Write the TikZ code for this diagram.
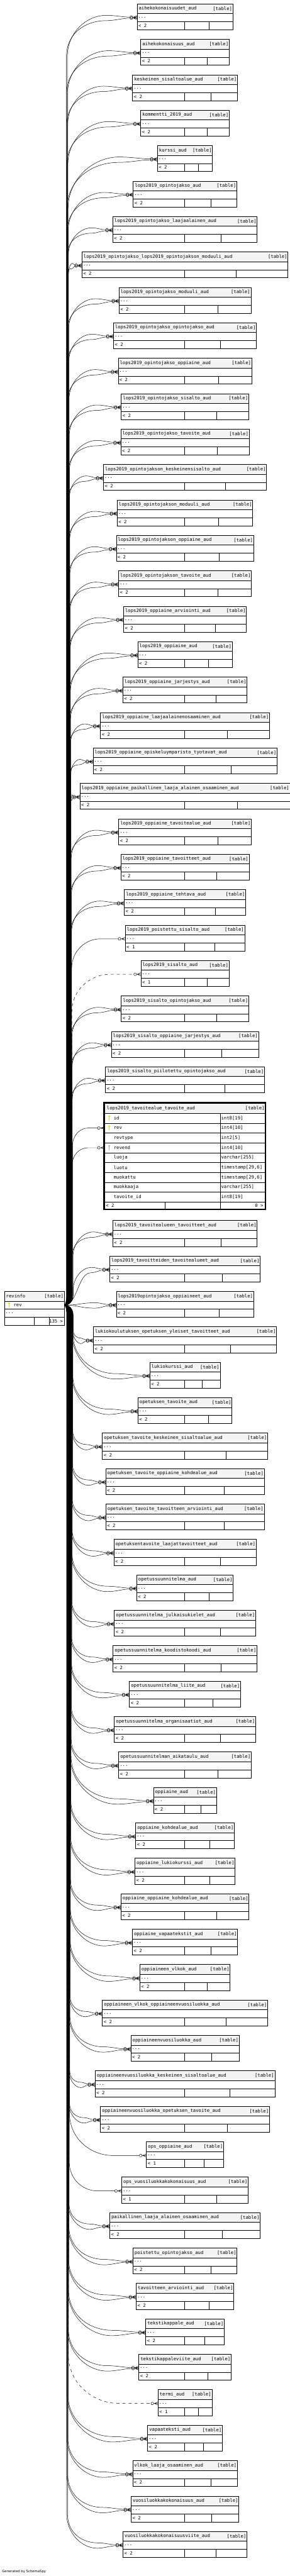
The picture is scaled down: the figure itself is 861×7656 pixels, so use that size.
\documentclass[tikz,border=0pt]{standalone}
\usepackage{fontspec}
\setmonofont{DejaVu Sans Mono}
\setsansfont{DejaVu Sans}
\usetikzlibrary{calc,positioning}

\definecolor{hdrgray}{HTML}{F4F4F4}
\definecolor{pkyellow}{HTML}{DCDC00}
\definecolor{fkgray}{HTML}{A9A9A9}
\newcommand{\tblfont}{\ttfamily\fontsize{13.6}{16}\selectfont}

\tikzset{
  hdr/.style={draw, fill=hdrgray, minimum height=29, anchor=north, inner sep=0pt, outer sep=0pt, line width=1pt},
  cell/.style={draw, minimum height=24, anchor=north, inner sep=0pt, outer sep=0pt, line width=1pt},
  txt/.style={font=\tblfont, inner sep=0pt, outer sep=0pt},
  link/.style={line width=0.9pt},
  implied/.style={dash pattern=on 9pt off 9pt},
}

% one FK line from revinfo to a table row, ending in a crow foot
\newcommand{\revlink}[5][solid]{%
  \path (#2.west); \pgfgetlastxy{\lnx}{\lny}%
  \path (revr.east); \pgfgetlastxy{\lsx}{\lsy}%
  \pgfmathsetmacro{\lxs}{\lsx}%
  \pgfmathsetmacro{\lys}{-1*(\lsy)}%
  \pgfmathsetmacro{\lyt}{-1*(\lny)}%
  \pgfmathsetmacro{\lxc}{\lnx-21}%
  \pgfmathsetmacro{\ld}{abs(\lyt-\lys)}%
  \pgfmathsetmacro{\lsg}{(\lyt<\lys) ? -1 : 1}%
  \pgfmathsetmacro{\lxv}{200+18*(1-\ld/3900)+#5}%
  \pgfmathsetmacro{\lW}{\lxc-\lxv}%
  \pgfmathsetmacro{\lR}{0.55*\lW+12}%
  \pgfmathsetmacro{\lpx}{\lxv+0.62*\lW}%
  \pgfmathsetmacro{\lya}{\lyt+#3}%
  \pgfmathsetmacro{\lye}{\lyt+#4}%
  \pgfmathsetmacro{\lcx}{\lpx+0.15*\lW}%
  \pgfmathsetmacro{\lcy}{\lxc-0.12*\lW}%
  \pgfmathtruncatemacro{\lfar}{\ld>\lR+45}%
  \ifnum\lfar=1
    \pgfmathsetmacro{\lca}{\lxs+0.6*(\lxv-\lxs)}%
    \pgfmathsetmacro{\lcb}{\lys+\lsg*12}%
    \pgfmathsetmacro{\lpa}{\lys+\lsg*30}%
    \pgfmathsetmacro{\lpb}{\lyt-\lsg*\lR}%
    \pgfmathsetmacro{\lcc}{\lyt-\lsg*0.4*\lR}%
    \pgfmathsetmacro{\lcd}{\lxv+0.3*\lW}%
    \draw[link,#1] (revr.east) .. controls (\lca,\lys) and (\lxv,\lcb) .. (\lxv,\lpa)
      -- (\lxv,\lpb) .. controls (\lxv,\lcc) and (\lcd,\lya) .. (\lpx,\lya)
      .. controls (\lcx,\lya) and (\lcy,\lye) .. ([shift={(-21,#4)}]#2.west);
  \else
    \pgfmathsetmacro{\lca}{\lxs+0.5*(\lpx-\lxs)}%
    \draw[link,#1] (revr.east) .. controls (\lca,\lys) and (\lca,\lya) .. (\lpx,\lya)
      .. controls (\lcx,\lya) and (\lcy,\lye) .. ([shift={(-21,#4)}]#2.west);
  \fi
  \draw[link] ([shift={(-17,#4)}]#2.west) circle[radius=4]
    ([shift={(-13,#4)}]#2.west) -- ([shift={(-11,#4)}]#2.west) -- ([shift={(0,#4-4.5)}]#2.west)
    ([shift={(-11,#4)}]#2.west) -- ([shift={(0,#4)}]#2.west)
    ([shift={(-11,#4)}]#2.west) -- ([shift={(0,#4+4.5)}]#2.west);
}

% an elided audit table, linked to revinfo
\newcommand{\audtable}[6][solid]{%
  \pgfmathsetmacro{\ttop}{#3<32 ? 11.4+105.3*#3 : 3627.3+105.3*(#3-32)}%
  \node[hdr, minimum width=#5] (#2) at (549.5,\ttop) {};
  \node[txt, anchor=west] (#2n) at ([xshift=5]#2.west) {#4};
  \node[txt, anchor=east] (#2t) at ([xshift=-2]#2.east) {[table]};
  \node[cell, minimum width=#5] (#2r) at (#2.south) {};
  \node[txt, anchor=west] (#2d) at ([xshift=3]#2r.west) {...};
  \node[cell, minimum width=#5] (#2b) at (#2r.south) {};
  \node[txt, anchor=west] (#2c) at ([xshift=4]#2b.west) {< #6};
  \draw[line width=1pt] (548.6,\ttop+53) -- (548.6,\ttop+77)
    ({549.05+#5/4},\ttop+53) -- ({549.05+#5/4},\ttop+77);
  \ifnum#6=2
    \revlink[#1]{#2r}{-7}{-1.5}{0}%
    \revlink[#1]{#2r}{9}{1.5}{-3}%
  \else
    \revlink[#1]{#2r}{0}{0}{0}%
  \fi
}

\newcommand{\keyicon}[2]{%
  \fill[#2] ([shift={(13.9,-5.5)}]#1.west) circle[radius=2.8];
  \fill[#2] ([shift={(13.1,-4)}]#1.west) rectangle ([shift={(14.7,6.6)}]#1.west);
}

\begin{document}
\begin{tikzpicture}[x=1pt, y=-1pt]
  \useasboundingbox (0,0) rectangle (861,7656);

  % revinfo
  \node[hdr, minimum width=178, anchor=north west] (rev) at (13,3837.9) {};
  \node[txt, anchor=west] (revn) at ([xshift=5]rev.west) {revinfo};
  \node[txt, anchor=east] (revt) at ([xshift=-2]rev.east) {[table]};
  \node[cell, minimum width=178] (revr) at (rev.south) {};
  \node[txt, anchor=west] (revk) at ([xshift=27.4]revr.west) {rev};
  \keyicon{revr}{pkyellow}
  \node[cell, minimum width=178] (reve) at (revr.south) {};
  \node[txt, anchor=west] (revd) at ([xshift=3]reve.west) {...};
  \node[cell, minimum width=178] (revb) at (reve.south) {};
  \node[txt, anchor=east] (revc) at ([xshift=-4]revb.east) {135 >};
  \draw[line width=1pt] (102,3914.9) -- (102,3938.9) (146.5,3914.9) -- (146.5,3938.9);

  \audtable{t00}{0}{aihekokonaisuudet\_aud}{284.5}{2}
  \audtable{t01}{1}{aihekokonaisuus\_aud}{262.8}{2}
  \audtable{t02}{2}{keskeinen\_sisaltoalue\_aud}{311.4}{2}
  \audtable{t03}{3}{kommentti\_2019\_aud}{262.8}{2}
  \audtable{t04}{4}{kurssi\_aud}{163.6}{2}
  \audtable{t05}{5}{lops2019\_opintojakso\_aud}{307.4}{2}
  \audtable{t06}{6}{lops2019\_opintojakso\_laajaalainen\_aud}{429}{2}
  \audtable{t07}{7}{lops2019\_opintojakso\_lops2019\_opintojakson\_moduuli\_aud}{612.2}{2}
  \audtable{t08}{8}{lops2019\_opintojakso\_moduuli\_aud}{391.8}{2}
  \audtable{t09}{9}{lops2019\_opintojakso\_opintojakso\_aud}{424.5}{2}
  \audtable{t10}{10}{lops2019\_opintojakso\_oppiaine\_aud}{396.8}{2}
  \audtable{t11}{11}{lops2019\_opintojakso\_sisalto\_aud}{378.4}{2}
  \audtable{t12}{12}{lops2019\_opintojakso\_tavoite\_aud}{381.6}{2}
  \audtable{t13}{13}{lops2019\_opintojakson\_keskeinensisalto\_aud}{484.5}{2}
  \audtable{t14}{14}{lops2019\_opintojakson\_moduuli\_aud}{402.8}{2}
  \audtable{t15}{15}{lops2019\_opintojakson\_oppiaine\_aud}{408.2}{2}
  \audtable{t16}{16}{lops2019\_opintojakson\_tavoite\_aud}{394.6}{2}
  \audtable{t17}{17}{lops2019\_oppiaine\_arviointi\_aud}{364.9}{2}
  \audtable{t18}{18}{lops2019\_oppiaine\_aud}{280.4}{2}
  \audtable{t19}{19}{lops2019\_oppiaine\_jarjestys\_aud}{369}{2}
  \audtable{t20}{20}{lops2019\_oppiaine\_laajaalainenosaaminen\_aud}{502}{2}
  \audtable{t21}{21}{lops2019\_oppiaine\_opiskeluymparisto\_tyotavat\_aud}{546.6}{2}
  \audtable{t22}{22}{lops2019\_oppiaine\_paikallinen\_laaja\_alainen\_osaaminen\_aud}{624}{2}
  \audtable{t23}{23}{lops2019\_oppiaine\_tavoitealue\_aud}{393.8}{2}
  \audtable{t24}{24}{lops2019\_oppiaine\_tavoitteet\_aud}{380.8}{2}
  \audtable{t25}{25}{lops2019\_oppiaine\_tehtava\_aud}{360.4}{2}
  \audtable{t26}{26}{lops2019\_poistettu\_sisalto\_aud}{354.7}{1}
  \audtable[implied]{t27}{27}{lops2019\_sisalto\_aud}{262}{1}
  \audtable{t28}{28}{lops2019\_sisalto\_opintojakso\_aud}{378.4}{2}
  \audtable{t29}{29}{lops2019\_sisalto\_oppiaine\_jarjestys\_aud}{437.1}{2}
  \audtable{t30}{30}{lops2019\_sisalto\_piilotettu\_opintojakso\_aud}{472.2}{2}

  % focus table with all columns
  \node[hdr, minimum width=477.6, anchor=north west] (fh) at (310.6,3279.6) {};
  \node[txt, anchor=west] (fhn) at ([xshift=7]fh.west) {lops2019\_tavoitealue\_tavoite\_aud};
  \node[txt, anchor=east] (fht) at ([xshift=-2]fh.east) {[table]};
  \foreach \cname/\ctype [count=\i] in {id/{int8[19]}, rev/{int4[10]}, revtype/{int2[5]},
      revend/{int4[10]}, luoja/{varchar[255]}, luotu/{timestamp[29,6]},
      muokattu/{timestamp[29,6]}, muokkaaja/{varchar[255]}, tavoite\_id/{int8[19]}}{
    \node[cell, minimum width=343.3, minimum height=29.3, anchor=north west] (fr\i) at (310.6,{3308.6+29.3*(\i-1)}) {};
    \node[cell, minimum width=134.3, minimum height=29.3, anchor=north west] (fy\i) at (653.9,{3308.6+29.3*(\i-1)}) {};
    \node[txt, anchor=west] (fn\i) at ([xshift=27.4]fr\i.west) {\cname};
    \node[txt, anchor=west] (ft\i) at ([xshift=3.1]fy\i.west) {\ctype};
  }
  \node[cell, minimum width=180, minimum height=22.9, anchor=north west] (fb1) at (310.6,3572.2) {};
  \node[cell, minimum width=163.3, minimum height=22.9, anchor=north west] (fb2) at (490.6,3572.2) {};
  \node[cell, minimum width=134.3, minimum height=22.9, anchor=north west] (fb3) at (653.9,3572.2) {};
  \node[txt, anchor=west] (fbl) at ([xshift=4]fb1.west) {< 2};
  \node[txt, anchor=east] (fbr) at ([xshift=-6]fb3.east) {0 >};
  \node[draw, line width=4pt, minimum width=480.5, minimum height=317.6, anchor=north west,
        inner sep=0pt, outer sep=0pt] (focus) at (308.5,3277.5) {};
  \keyicon{fr1}{pkyellow}
  \keyicon{fr2}{pkyellow}
  \keyicon{fr4}{fkgray}
  \revlink{fr2}{0}{0}{0}
  \revlink{fr4}{0}{0}{-2}

  \audtable{t32}{32}{lops2019\_tavoitealueen\_tavoitteet\_aud}{429}{2}
  \audtable{t33}{33}{lops2019\_tavoitteiden\_tavoitealueet\_aud}{446.6}{2}
  \audtable{t34}{34}{lops2019opintojakso\_oppiaineet\_aud}{408.2}{2}
  \audtable{t35}{35}{lukiokoulutuksen\_opetuksen\_yleiset\_tavoitteet\_aud}{544}{2}
  \audtable{t36}{36}{lukiokurssi\_aud}{208.6}{2}
  \audtable{t37}{37}{opetuksen\_tavoite\_aud}{279.2}{2}
  \audtable{t38}{38}{opetuksen\_tavoite\_keskeinen\_sisaltoalue\_aud}{490.6}{2}
  \audtable{t39}{39}{opetuksen\_tavoite\_oppiaine\_kohdealue\_aud}{471}{2}
  \audtable{t40}{40}{opetuksen\_tavoite\_tavoitteen\_arviointi\_aud}{470.2}{2}
  \audtable{t41}{41}{opetuksentavoite\_laajattavoitteet\_aud}{422.8}{2}
  \audtable{t42}{42}{opetussuunnitelma\_aud}{286.6}{2}
  \audtable{t43}{43}{opetussuunnitelma\_julkaisukielet\_aud}{419.6}{2}
  \audtable{t44}{44}{opetussuunnitelma\_koodistokoodi\_aud}{427}{2}
  \audtable{t45}{45}{opetussuunnitelma\_liite\_aud}{330.2}{2}
  \audtable{t46}{46}{opetussuunnitelma\_organisaatiot\_aud}{419.6}{2}
  \audtable{t47}{47}{opetussuunnitelman\_aikataulu\_aud}{393.8}{2}
  \audtable{t48}{48}{oppiaine\_aud}{187.4}{2}
  \audtable{t49}{49}{oppiaine\_kohdealue\_aud}{293}{2}
  \audtable{t50}{50}{oppiaine\_lukiokurssi\_aud}{297.2}{2}
  \audtable{t51}{51}{oppiaine\_oppiaine\_kohdealue\_aud}{380.4}{2}
  \audtable{t52}{52}{oppiaine\_vapaatekstit\_aud}{312.6}{2}
  \audtable{t53}{53}{oppiaineen\_vlkok\_aud}{268.2}{2}
  \audtable{t54}{54}{oppiaineen\_vlkok\_oppiaineenvuosiluokka\_aud}{490.6}{2}
  \audtable{t55}{55}{oppiaineenvuosiluokka\_aud}{321.6}{2}
  \audtable{t56}{56}{oppiaineenvuosiluokka\_keskeinen\_sisaltoalue\_aud}{533.8}{2}
  \audtable{t57}{57}{oppiaineenvuosiluokka\_opetuksen\_tavoite\_aud}{502}{2}
  \audtable{t58}{58}{ops\_oppiaine\_aud}{229}{1}
  \audtable{t59}{59}{ops\_vuosiluokkakokonaisuus\_aud}{375.5}{1}
  \audtable{t60}{60}{paikallinen\_laaja\_alainen\_osaaminen\_aud}{447}{2}
  \audtable{t61}{61}{poistettu\_opintojakso\_aud}{309.4}{2}
  \audtable{t62}{62}{tavoitteen\_arviointi\_aud}{289.8}{2}
  \audtable{t63}{63}{tekstikappale\_aud}{233}{2}
  \audtable{t64}{64}{tekstikappaleviite\_aud}{274.3}{2}
  \audtable[implied]{t65}{65}{termi\_aud}{160}{1}
  \audtable{t66}{66}{vapaateksti\_aud}{222}{2}
  \audtable{t67}{67}{vlkok\_laaja\_osaaminen\_aud}{311}{2}
  \audtable{t68}{68}{vuosiluokkakokonaisuus\_aud}{320}{2}
  \audtable{t69}{69}{vuosiluokkakokonaisuusviite\_aud}{368}{2}

  \node[anchor=south west, inner sep=0pt, font=\sffamily\fontsize{10}{12}\selectfont] (credit) at (6,7648) {Generated by SchemaSpy};
\end{tikzpicture}
\end{document}
